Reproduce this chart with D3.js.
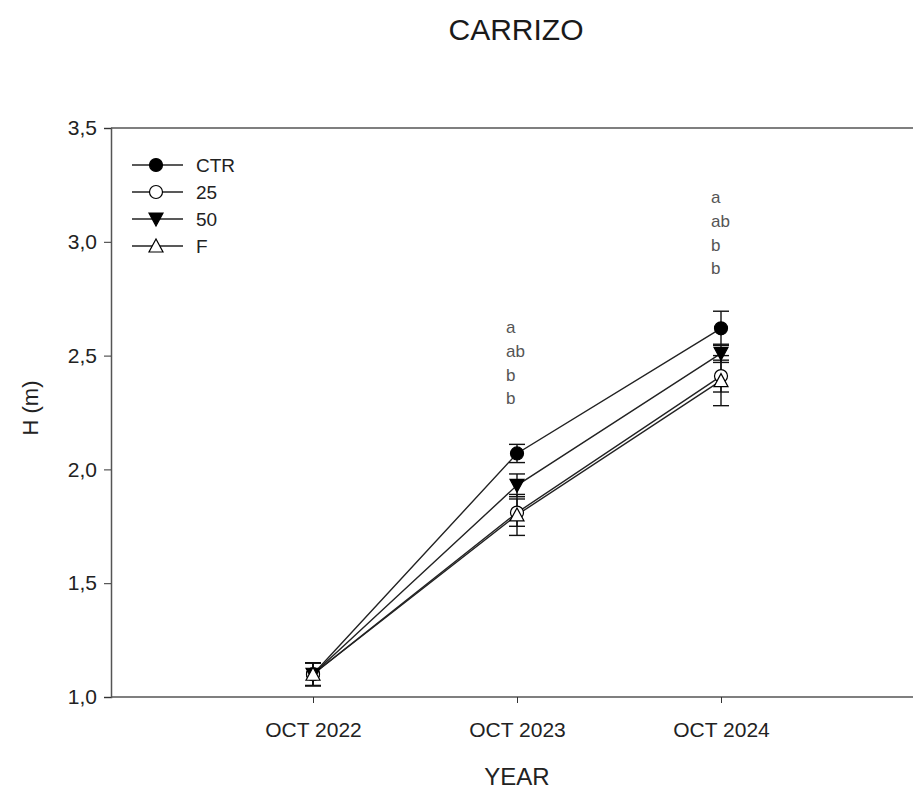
<!DOCTYPE html>
<html>
<head>
<meta charset="utf-8">
<script src="https://cdn.jsdelivr.net/npm/d3@7"></script>
<style>
  body { margin: 0; background: #fff; }
  svg { font-family: "Liberation Sans", Arial, sans-serif; }
</style>
</head>
<body>
<div id="chart"></div>
<script>
// data
const years = ['OCT 2022', 'OCT 2023', 'OCT 2024'];
const yTicks = [1.0, 1.5, 2.0, 2.5, 3.0, 3.5];

const ctrVals = [1.10, 2.07, 2.62];
const ctrErr  = [0.05, 0.04, 0.075];
const t25Vals = [1.10, 1.81, 2.41];
const t25Err  = [0.05, 0.06, 0.07];
const t50Vals = [1.10, 1.93, 2.51];
const t50Err  = [0.05, 0.05, 0.04];
const fVals   = [1.10, 1.80, 2.39];
const fErr    = [0.05, 0.09, 0.11];

const letters2023 = ['a', 'ab', 'b', 'b'];
const letters2024 = ['a', 'ab', 'b', 'b'];

const series = [
  { name: 'CTR', vals: ctrVals, err: ctrErr, symbol: 'circle', fill: '#000' },
  { name: '25',  vals: t25Vals, err: t25Err, symbol: 'circle', fill: '#fff' },
  { name: '50',  vals: t50Vals, err: t50Err, symbol: 'tridown', fill: '#000' },
  { name: 'F',   vals: fVals,   err: fErr,   symbol: 'triup', fill: '#fff' }
];

const width = 913, height = 790;
const margin = { top: 128, left: 111 };
const svg = d3.select('#chart').append('svg')
  .attr('width', width).attr('height', height);

// x positions: index 0..4, years at 1..3
const x = d3.scaleLinear().domain([0, 4]).range([margin.left - 2, 925]);
const y = d3.scaleLinear().domain([1.0, 3.5]).range([697, margin.top]);

const axisColor = '#555';

// frame top line
svg.append('line')
  .attr('x1', margin.left).attr('x2', width)
  .attr('y1', y(3.5)).attr('y2', y(3.5))
  .attr('stroke', axisColor).attr('stroke-width', 1.5);

const yAxis = d3.axisLeft(y).tickValues(yTicks).tickSize(7).tickPadding(7)
  .tickFormat(d => d3.format('.1f')(d).replace('.', ','));
const yAxisG = svg.append('g').attr('transform', `translate(${margin.left},0)`).call(yAxis);

const xAxis = d3.axisBottom(x).tickValues([1, 2, 3]).tickSize(6).tickPadding(19)
  .tickFormat(d => years[d - 1]);
const xAxisG = svg.append('g').attr('transform', `translate(0,${y(1.0)})`).call(xAxis);
xAxisG.select('.domain').attr('d', `M${margin.left},0H${width}`);

[yAxisG, xAxisG].forEach(g => {
  g.attr('font-size', 21).attr('font-family', '"Liberation Sans", Arial, sans-serif');
  g.select('.domain').attr('stroke', axisColor).attr('stroke-width', 1.5);
  g.selectAll('.tick line').attr('stroke', '#333').attr('stroke-width', 1);
  g.selectAll('.tick text').attr('fill', '#222');
});

// titles
svg.append('text').attr('x', 516).attr('y', 40).attr('text-anchor', 'middle')
  .style('font-size', '30px').attr('fill', '#1a1a1a').text('CARRIZO');
svg.append('text').attr('x', 517).attr('y', 785).attr('text-anchor', 'middle')
  .style('font-size', '24px').attr('fill', '#222').text('YEAR');
svg.append('text').attr('transform', 'translate(38,408) rotate(-90)')
  .attr('text-anchor', 'middle').style('font-size', '22px').attr('fill', '#222').text('H (m)');

// lines
const line = d3.line().x((d, i) => x(i + 1)).y(d => y(d));
const plot = svg.append('g');
series.slice().reverse().forEach(s => {
  plot.append('path').datum(s.vals).attr('d', line)
    .attr('fill', 'none').attr('stroke', '#222').attr('stroke-width', 1.4);
});

// error bars
series.forEach(s => {
  s.vals.forEach((v, i) => {
    const cx = x(i + 1);
    const g = plot.append('g').attr('stroke', '#111').attr('stroke-width', 1.4);
    g.append('line').attr('x1', cx).attr('x2', cx).attr('y1', y(v - s.err[i])).attr('y2', y(v + s.err[i]));
    [v - s.err[i], v + s.err[i]].forEach(e => {
      g.append('line').attr('x1', cx - 8).attr('x2', cx + 8).attr('y1', y(e)).attr('y2', y(e));
    });
  });
});

function drawMarker(g, s, cx, cy) {
  if (s.symbol === 'circle') {
    g.append('circle').attr('cx', cx).attr('cy', cy).attr('r', 6.5)
      .attr('fill', s.fill).attr('stroke', '#000').attr('stroke-width', 1.2);
  } else if (s.symbol === 'tridown') {
    g.append('path').attr('d', `M${cx - 7},${cy - 6}L${cx + 7},${cy - 6}L${cx},${cy + 7}Z`)
      .attr('fill', s.fill).attr('stroke', '#000').attr('stroke-width', 1.2);
  } else {
    g.append('path').attr('d', `M${cx - 7},${cy + 6}L${cx + 7},${cy + 6}L${cx},${cy - 7}Z`)
      .attr('fill', s.fill).attr('stroke', '#000').attr('stroke-width', 1.2);
  }
}

// markers (drawn in order so F ends up on top like the reference)
series.forEach(s => {
  s.vals.forEach((v, i) => drawMarker(plot, s, x(i + 1), y(v)));
});

// significance letters
function letterStack(list, lx, topY) {
  list.forEach((t, i) => {
    svg.append('text').attr('x', lx).attr('y', topY + i * 23.8)
      .style('font-size', '17px').attr('fill', '#555').text(t);
  });
}
letterStack(letters2023, x(2) - 11, 333);
letterStack(letters2024, x(3) - 10, 203);

// legend
const legend = svg.append('g');
series.forEach((s, i) => {
  const ly = 165 + i * 27;
  legend.append('line').attr('x1', 132).attr('x2', 183).attr('y1', ly).attr('y2', ly)
    .attr('stroke', '#222').attr('stroke-width', 1.4);
  drawMarker(legend, s, 156, ly);
  legend.append('text').attr('x', 196).attr('y', ly + 7)
    .style('font-size', '19px').attr('fill', '#222').text(s.name);
});
</script>
</body>
</html>
